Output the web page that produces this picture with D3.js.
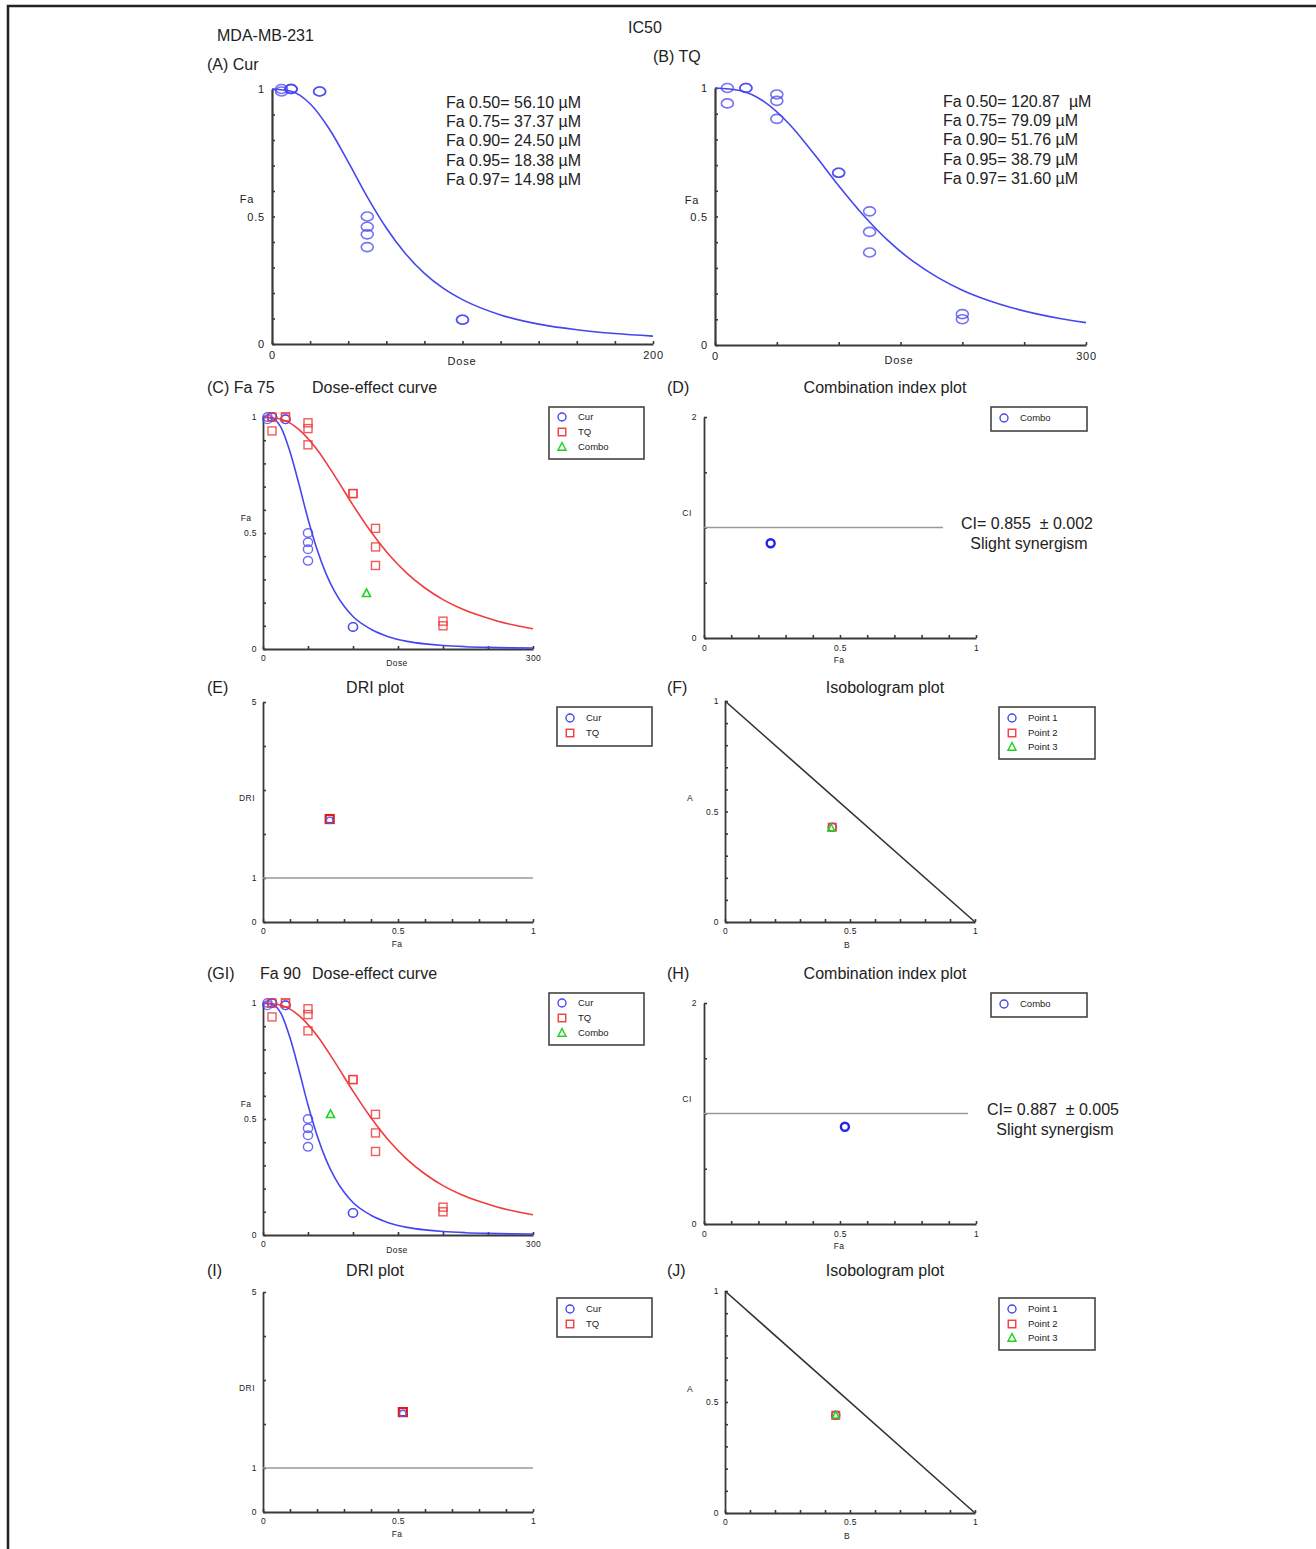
<!DOCTYPE html>
<html><head><meta charset="utf-8">
<script src="https://cdn.jsdelivr.net/npm/d3@7"></script>
<style>
body{margin:0;background:#fff}
svg{display:block}
text{font-family:"Liberation Sans",Arial,sans-serif;fill:#222}
</style>
</head><body>
<svg id="c" width="1316" height="1549"></svg>
<script>
// ---------------- DATA ----------------
const curDose = [5, 5, 10, 10, 10, 25, 25, 50, 50, 50, 50, 100, 100];
const curFa   = [1.0, 0.99, 1.0, 1.0, 1.0, 0.99, 0.99, 0.50, 0.46, 0.43, 0.38, 0.095, 0.095];
const tqDose  = [10, 10, 25, 25, 50, 50, 50, 100, 100, 125, 125, 125, 200, 200];
const tqFa    = [1.0, 0.94, 1.0, 1.0, 0.975, 0.95, 0.88, 0.67, 0.67, 0.52, 0.44, 0.36, 0.12, 0.10];

const curFitDoseA = [0, 10, 20, 30, 40, 50, 60, 70, 80, 90, 100, 120, 140, 160, 180, 200];
const curFitFaA   = [1, 0.991, 0.942, 0.844, 0.714, 0.577, 0.455, 0.355, 0.277, 0.218, 0.174, 0.114, 0.078, 0.056, 0.041, 0.031];
const curFitDoseC = [0, 10, 20, 30, 40, 50, 60, 70, 80, 90, 100, 120, 140, 160, 180, 200, 225, 250, 275, 300];
const curFitFaC   = [1, 0.995, 0.955, 0.85, 0.71, 0.56, 0.43, 0.325, 0.245, 0.185, 0.14, 0.085, 0.052, 0.033, 0.022, 0.015, 0.01, 0.007, 0.005, 0.004];
const tqFitDose   = [0, 20, 40, 60, 80, 100, 120, 140, 160, 180, 200, 220, 240, 260, 280, 300];
const tqFitFa     = [1, 0.99, 0.946, 0.86, 0.744, 0.62, 0.505, 0.406, 0.326, 0.263, 0.213, 0.175, 0.145, 0.121, 0.102, 0.087];

const curICfa  = ["0.50", "0.75", "0.90", "0.95", "0.97"];
const curICval = ["56.10", "37.37", "24.50", "18.38", "14.98"];
const tqICval  = ["120.87 ", "79.09", "51.76", "38.79", "31.60"];

const comboDose75 = [115], comboFa75 = [0.24];
const comboDose90 = [75],  comboFa90 = [0.52];
const ciFa75 = [0.245], ciVal75 = [0.857];
const ciFa90 = [0.518], ciVal90 = [0.88];
const ciText75 = ["CI= 0.855  \u00b1 0.002", "Slight synergism"];
const ciText90 = ["CI= 0.887  \u00b1 0.005", "Slight synergism"];
const driFa75 = [0.247], driCur75 = [2.31], driTQ75 = [2.34];
const driFa90 = [0.518], driCur90 = [2.24], driTQ90 = [2.27];
const isoB75 = [0.429, 0.429, 0.425], isoA75 = [0.429, 0.429, 0.425];
const isoB90 = [0.443, 0.443, 0.443], isoA90 = [0.44, 0.44, 0.44];

// ---------------- DRAWING ----------------
const svg = d3.select("#c");
const BLUE = "#4646f0", RED = "#f03c3c", GREEN = "#1ed21e", AX = "#3a3a3a";
const BIG = 16;

svg.append("path").attr("d", "M8,1549V6H1316").attr("fill", "none").attr("stroke", "#222").attr("stroke-width", 2.5);

function txt(x, y, s, size, anchor, extra) {
  const t = svg.append("text").attr("x", x).attr("y", y).attr("font-size", size)
    .attr("text-anchor", anchor || "start").style("white-space", "pre").text(s);
  if (extra) extra(t);
  return t;
}

const near = (arr, v) => arr.some(a => Math.abs(a - v) < 1e-6);

function panel(o) {
  const x = d3.scaleLinear().domain(o.xd).range([o.x0, o.x1]);
  const y = d3.scaleLinear().domain(o.yd).range([o.y0, o.y1]);
  const g = svg.append("g");
  const fmt = lab => v => near(lab, v) ? d3.format("~g")(+v.toFixed(6)) : "";
  const ax = g.append("g").attr("transform", `translate(0,${o.y0})`)
    .call(d3.axisBottom(x).tickValues(o.xt).tickFormat(fmt(o.xl)).tickSizeInner(-3).tickSizeOuter(0).tickPadding(o.pad));
  const ay = g.append("g").attr("transform", `translate(${o.x0},0)`)
    .call(d3.axisLeft(y).tickValues(o.yt).tickFormat(fmt(o.yl)).tickSizeInner(-3).tickSizeOuter(0).tickPadding(o.pad));
  [ax, ay].forEach(a => {
    a.attr("font-family", null).attr("font-size", null);
    a.select(".domain").attr("stroke", AX).attr("stroke-width", o.aw);
    a.selectAll(".tick line").attr("stroke", AX).attr("stroke-width", 1.6);
    a.selectAll(".tick text").attr("font-size", o.fs).attr("fill", "#333").style("letter-spacing", o.ls + "px");
  });
  txt(o.ylx, o.y0 - o.yly, o.yname, o.fs, "middle", t => t.attr("dy", "0.35em").style("letter-spacing", o.ls + "px"));
  txt(o.xlx !== undefined ? o.xlx : (o.x0 + o.x1) / 2, o.y0 + o.xly, o.xname, o.fs, "middle", t => t.attr("dy", "0.35em").style("letter-spacing", o.ls + "px"));
  return {x, y, g};
}

function circ(g, cx, cy, rx, ry, col, sw, op) {
  g.append("ellipse").attr("cx", cx).attr("cy", cy).attr("rx", rx).attr("ry", ry)
    .attr("fill", "none").attr("stroke", col).attr("stroke-width", sw).attr("stroke-opacity", op || 1);
}
function sq(g, cx, cy, s, col, sw, op) {
  g.append("rect").attr("x", cx - s / 2).attr("y", cy - s / 2).attr("width", s).attr("height", s)
    .attr("fill", "none").attr("stroke", col).attr("stroke-width", sw).attr("stroke-opacity", op || 1);
}
function tri(g, cx, cy, s, col, sw) {
  g.append("path").attr("d", `M${cx},${cy - s * 0.55}L${cx + s / 2},${cy + s * 0.4}L${cx - s / 2},${cy + s * 0.4}Z`)
    .attr("fill", "none").attr("stroke", col).attr("stroke-width", sw);
}
function curve(p, xs, ys, col) {
  const line = d3.line().x((d, i) => p.x(xs[i])).y((d, i) => p.y(ys[i])).curve(d3.curveMonotoneX);
  p.g.append("path").attr("d", line(xs)).attr("fill", "none").attr("stroke", col).attr("stroke-width", 1.6);
}
function legend(x, y, w, h, items, rowY) {
  const g = svg.append("g");
  g.append("rect").attr("x", x).attr("y", y).attr("width", w).attr("height", h)
    .attr("fill", "#fff").attr("stroke", "#444").attr("stroke-width", 1.6);
  items.forEach((it, i) => {
    const cy = rowY[i], mx = x + 13;
    if (it.s === "c") circ(g, mx, cy, 4, 4, it.c, 1.4);
    if (it.s === "s") sq(g, mx, cy, 7.5, it.c, 1.4);
    if (it.s === "t") tri(g, mx, cy, 8, it.c, 1.4);
    g.append("text").attr("x", x + 29).attr("y", cy).attr("dy", "0.35em").attr("font-size", 9.5)
      .attr("fill", "#444").text(it.l);
  });
}

// Headers
txt(217, 41, "MDA-MB-231", BIG);
txt(628, 33, "IC50", BIG);

// ---- Panel A ----
txt(207, 70, "(A) Cur", BIG);
const pA = panel({x0: 272, x1: 653, y0: 344, y1: 89, xd: [0, 200], yd: [0, 1],
  xt: d3.range(0, 201, 20), xl: [0, 200], yt: d3.range(0, 11).map(i => i / 10), yl: [0, 0.5, 1],
  aw: 2.2, fs: 11, ls: 0.8, pad: 7, yname: "Fa", ylx: 247, yly: 145, xname: "Dose", xlx: 462, xly: 17});
curve(pA, curFitDoseA, curFitFaA, BLUE);
curDose.forEach((d, i) => circ(pA.g, pA.x(d), pA.y(curFa[i]), 6, 4.5, BLUE, 1.6, 0.75));
curICfa.forEach((f, i) => txt(446, 108 + i * 19.2, `Fa ${f}= ${curICval[i]} \u00b5M`, BIG));

// ---- Panel B ----
txt(653, 62, "(B) TQ", BIG);
const pB = panel({x0: 715, x1: 1086, y0: 345, y1: 88, xd: [0, 300], yd: [0, 1],
  xt: d3.range(0, 301, 50), xl: [0, 300], yt: d3.range(0, 11).map(i => i / 10), yl: [0, 0.5, 1],
  aw: 2.2, fs: 11, ls: 0.8, pad: 7, yname: "Fa", ylx: 692, yly: 145, xname: "Dose", xlx: 899, xly: 15});
curve(pB, tqFitDose, tqFitFa, BLUE);
tqDose.forEach((d, i) => circ(pB.g, pB.x(d), pB.y(tqFa[i]), 6, 4.5, BLUE, 1.6, 0.75));
curICfa.forEach((f, i) => txt(943, 107 + i * 19.2, `Fa ${f}= ${tqICval[i]} \u00b5M`, BIG));

// ---- Dose-effect panels C & G ----
function doseEffect(y0, y1, comboD, comboF, legRowY, legY, xly) {
  const p = panel({x0: 263, x1: 533, y0: y0, y1: y1, xd: [0, 300], yd: [0, 1],
    xt: d3.range(0, 301, 50), xl: [0, 300], yt: d3.range(0, 11).map(i => i / 10), yl: [0, 0.5, 1],
    aw: 1.8, fs: 8.5, ls: 0.4, pad: 6, yname: "Fa", ylx: 246, yly: 131, xname: "Dose", xlx: 397, xly: xly});
  curve(p, curFitDoseC, curFitFaC, BLUE);
  curve(p, tqFitDose, tqFitFa, RED);
  curDose.forEach((d, i) => circ(p.g, p.x(d), p.y(curFa[i]), 4.6, 4.3, BLUE, 1.4, 0.8));
  tqDose.forEach((d, i) => sq(p.g, p.x(d), p.y(tqFa[i]), 8, RED, 1.4, 0.85));
  comboD.forEach((d, i) => tri(p.g, p.x(d), p.y(comboF[i]), 8, GREEN, 1.6));
  legend(549, legY, 95, 52, [{s: "c", c: BLUE, l: "Cur"}, {s: "s", c: RED, l: "TQ"}, {s: "t", c: GREEN, l: "Combo"}], legRowY);
}
txt(207, 393, "(C) Fa 75", BIG);
txt(312, 393, "Dose-effect curve", BIG);
doseEffect(649, 417, comboDose75, comboFa75, [417, 432, 447], 407, 14);

// ---- CI panels D & H ----
function ciPanel(y0, y1, label, fa, ci, lineEnd, texts, tx, legY) {
  txt(667, y1 - 24, label, BIG);
  txt(885, y1 - 24, "Combination index plot", BIG, "middle");
  const p = panel({x0: 704, x1: 976, y0: y0, y1: y1, xd: [0, 1], yd: [0, 2],
    xt: d3.range(0, 11).map(i => i / 10), xl: [0, 0.5, 1], yt: [0, 0.5, 1, 1.5, 2], yl: [0, 2],
    aw: 1.8, fs: 8.5, ls: 0.4, pad: 7, yname: "CI", ylx: 687, yly: 125, xname: "Fa", xlx: 839, xly: 22});
  p.g.append("line").attr("x1", p.x(0)).attr("x2", lineEnd).attr("y1", p.y(1)).attr("y2", p.y(1))
    .attr("stroke", "#9a9a9a").attr("stroke-width", 1.3);
  fa.forEach((f, i) => circ(p.g, p.x(f), p.y(ci[i]), 4, 4, "#2424e6", 2.4));
  txt(tx, p.y(1) + 1, texts[0], BIG, "middle");
  txt(tx + 2, p.y(1) + 21, texts[1], BIG, "middle");
  legend(991, legY, 96, 24, [{s: "c", c: BLUE, l: "Combo"}], [legY + 11]);
}
ciPanel(638, 417, "(D)", ciFa75, ciVal75, 943, ciText75, 1027, 407);

// ---- DRI panels E & I ----
function driPanel(y0, y1, label, titleY, fa, dc, dt, legY) {
  txt(207, titleY, label, BIG);
  txt(375, titleY, "DRI plot", BIG, "middle");
  const p = panel({x0: 263, x1: 533, y0: y0, y1: y1, xd: [0, 1], yd: [0, 5],
    xt: d3.range(0, 11).map(i => i / 10), xl: [0, 0.5, 1], yt: [0, 1, 2, 3, 4, 5], yl: [0, 1, 5],
    aw: 1.8, fs: 8.5, ls: 0.4, pad: 6, yname: "DRI", ylx: 247, yly: 124, xname: "Fa", xlx: 397, xly: 22});
  p.g.append("line").attr("x1", p.x(0)).attr("x2", p.x(1)).attr("y1", p.y(1)).attr("y2", p.y(1))
    .attr("stroke", "#9a9a9a").attr("stroke-width", 1.3);
  fa.forEach((f, i) => {
    sq(p.g, p.x(f), p.y(dt[i]), 8, "#e01818", 2.2);
    circ(p.g, p.x(f), p.y(dc[i]), 3.2, 3.2, "#5a5af0", 1.3);
  });
  legend(557, legY, 95, 39, [{s: "c", c: BLUE, l: "Cur"}, {s: "s", c: RED, l: "TQ"}], [legY + 11, legY + 26]);
}
driPanel(922, 702, "(E)", 693, driFa75, driCur75, driTQ75, 707);

// ---- Isobologram panels F & J ----
function isoPanel(y0, y1, label, bs, as, legY, titleY) {
  txt(667, titleY, label, BIG);
  txt(885, titleY, "Isobologram plot", BIG, "middle");
  const p = panel({x0: 725, x1: 975, y0: y0, y1: y1, xd: [0, 1], yd: [0, 1],
    xt: d3.range(0, 11).map(i => i / 10), xl: [0, 0.5, 1], yt: d3.range(0, 11).map(i => i / 10), yl: [0, 0.5, 1],
    aw: 1.8, fs: 8.5, ls: 0.4, pad: 6, yname: "A", ylx: 690, yly: 124, xname: "B", xlx: 847, xly: 23});
  p.g.append("line").attr("x1", p.x(0)).attr("y1", p.y(1)).attr("x2", p.x(1)).attr("y2", p.y(0))
    .attr("stroke", "#333").attr("stroke-width", 1.6);
  circ(p.g, p.x(bs[0]), p.y(as[0]), 4, 4, BLUE, 1.5);
  sq(p.g, p.x(bs[1]), p.y(as[1]), 7.5, RED, 1.5);
  tri(p.g, p.x(bs[2]), p.y(as[2]), 7, GREEN, 1.5);
  legend(999, legY, 96, 52, [{s: "c", c: BLUE, l: "Point 1"}, {s: "s", c: RED, l: "Point 2"}, {s: "t", c: GREEN, l: "Point 3"}],
    [legY + 11, legY + 26, legY + 40]);
}
isoPanel(922, 701, "(F)", isoB75, isoA75, 707, 693);

// ---- second block (Fa 90) ----
txt(207, 979, "(GI)", BIG);
txt(260, 979, "Fa 90", BIG);
txt(312, 979, "Dose-effect curve", BIG);
doseEffect(1235, 1003, comboDose90, comboFa90, [1003, 1018, 1033], 993, 15);
ciPanel(1224, 1003, "(H)", ciFa90, ciVal90, 968, ciText90, 1053, 993);
driPanel(1512, 1292, "(I)", 1276, driFa90, driCur90, driTQ90, 1298);
isoPanel(1513, 1291, "(J)", isoB90, isoA90, 1298, 1276);
</script>
</body></html>
